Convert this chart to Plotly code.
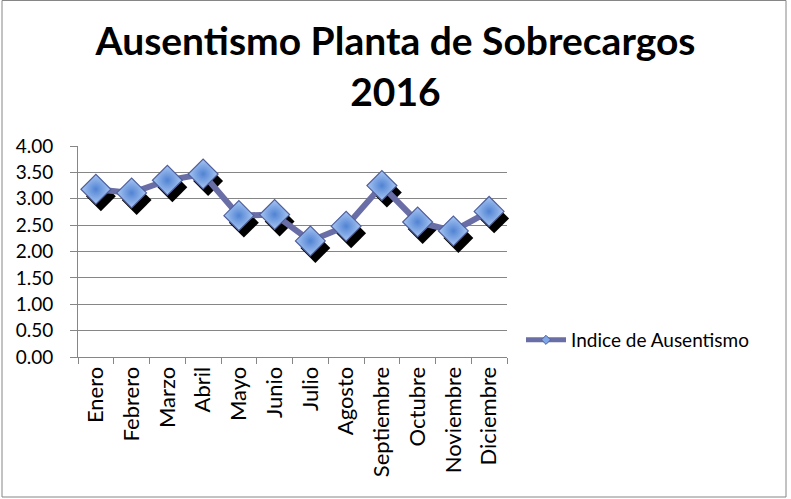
import plotly.graph_objects as go

meses = ['Enero', 'Febrero', 'Marzo', 'Abril', 'Mayo', 'Junio', 'Julio',
         'Agosto', 'Septiembre', 'Octubre', 'Noviembre', 'Diciembre']
indice = [3.18, 3.11, 3.35, 3.47, 2.68, 2.70, 2.20, 2.48, 3.25, 2.56, 2.39, 2.76]
y_ticks = [0, 0.5, 1, 1.5, 2, 2.5, 3, 3.5, 4]
serie = 'Indice de Ausentismo'

# plot area in pixels (grid) plus a small offset for the marker shadow
W, H = 791, 499
left, top = 78, 146
pw, ph = 429, 211
dx, dy = 5, 7
paper_w, paper_h = pw + dx, ph + dy

fnt = 'Lato'
gris = '#868686'

fig = go.Figure()

# hidden trace so the grid axes know the categories
fig.add_trace(go.Scatter(x=meses, y=indice, mode='lines', line=dict(width=0),
                         opacity=0, showlegend=False, hoverinfo='skip',
                         xaxis='x', yaxis='y'))

# shadow of the markers
fig.add_trace(go.Scatter(x=meses, y=indice, mode='markers',
                         marker=dict(symbol='diamond', size=23, color='black',
                                     line=dict(width=0)),
                         showlegend=False, hoverinfo='skip',
                         xaxis='x2', yaxis='y2'))

# the series itself
fig.add_trace(go.Scatter(x=meses, y=indice, mode='lines+markers', name=serie,
                         line=dict(color='#6a6ea6', width=6),
                         marker=dict(symbol='diamond', size=23, color='#a9c7f3',
                                     gradient=dict(type='radial', color='#5183d3'),
                                     line=dict(color='#4f5f9c', width=1.2)),
                         showlegend=False, xaxis='x3', yaxis='y3'))

# legend entry with a small marker
fig.add_trace(go.Scatter(x=[None], y=[None], mode='lines+markers', name=serie,
                         line=dict(color='#6a6ea6', width=5),
                         marker=dict(symbol='diamond', size=7, color='#7fa6e6',
                                     line=dict(color='#4f5f9c', width=1)),
                         xaxis='x3', yaxis='y3'))

xdom_main = [0, pw / paper_w]
ydom_main = [dy / paper_h, 1]
xdom_sh = [dx / paper_w, 1]
ydom_sh = [0, ph / paper_h]

hidden = dict(visible=False, fixedrange=True)

fig.update_layout(
    width=W, height=H,
    margin=dict(l=left, r=W - left - paper_w, t=top, b=H - top - paper_h, pad=0),
    paper_bgcolor='white', plot_bgcolor='rgba(0,0,0,0)',
    font=dict(family=fnt, color='black'),
    title=dict(text='<b>Ausentismo Planta de Sobrecargos<br>2016</b>',
               x=0.5, xanchor='center', y=1 - 55 / H, yanchor='top',
               font=dict(size=39, family=fnt, color='black')),
    xaxis=dict(domain=xdom_main, anchor='y', type='category',
               categoryorder='array', categoryarray=meses,
               range=[-0.5, 11.5], tickson='boundaries', ticks='outside',
               ticklen=6, tickcolor=gris, showline=True, linecolor=gris,
               linewidth=1, showgrid=False, tickangle=-90,
               tickfont=dict(size=22, family=fnt), fixedrange=True),
    yaxis=dict(domain=ydom_main, anchor='x', range=[0, 4], tickvals=y_ticks,
               tickformat='.2f', ticks='outside', ticklen=7, tickcolor=gris,
               showline=True, linecolor=gris, linewidth=1, showgrid=True,
               gridcolor=gris, gridwidth=1, zeroline=False,
               ticklabelstandoff=13,
               tickfont=dict(size=19, family=fnt), fixedrange=True),
    xaxis2=dict(domain=xdom_sh, anchor='y2', type='category',
                categoryorder='array', categoryarray=meses,
                range=[-0.5, 11.5], **hidden),
    yaxis2=dict(domain=ydom_sh, anchor='x2', range=[0, 4], **hidden),
    xaxis3=dict(domain=xdom_main, anchor='y3', type='category',
                categoryorder='array', categoryarray=meses,
                range=[-0.5, 11.5], **hidden),
    yaxis3=dict(domain=ydom_main, anchor='x3', range=[0, 4], **hidden),
    legend=dict(x=(521 - left) / paper_w, y=1 - (340 - top) / paper_h,
                xanchor='left', yanchor='middle', bgcolor='rgba(0,0,0,0)',
                font=dict(size=19, family=fnt), itemwidth=40),
    showlegend=True,
)

# outer frame of the chart
fig.add_shape(type='rect', xref='paper', yref='paper',
              x0=(2 - left) / paper_w, x1=(786 - left) / paper_w,
              y0=1 - (497 - top) / paper_h, y1=1 - (0.5 - top) / paper_h,
              line=dict(color=gris, width=1), fillcolor='rgba(0,0,0,0)',
              layer='below')

fig.write_html('out.html', config={'displayModeBar': False},
               post_script="document.body.style.margin='0';")
